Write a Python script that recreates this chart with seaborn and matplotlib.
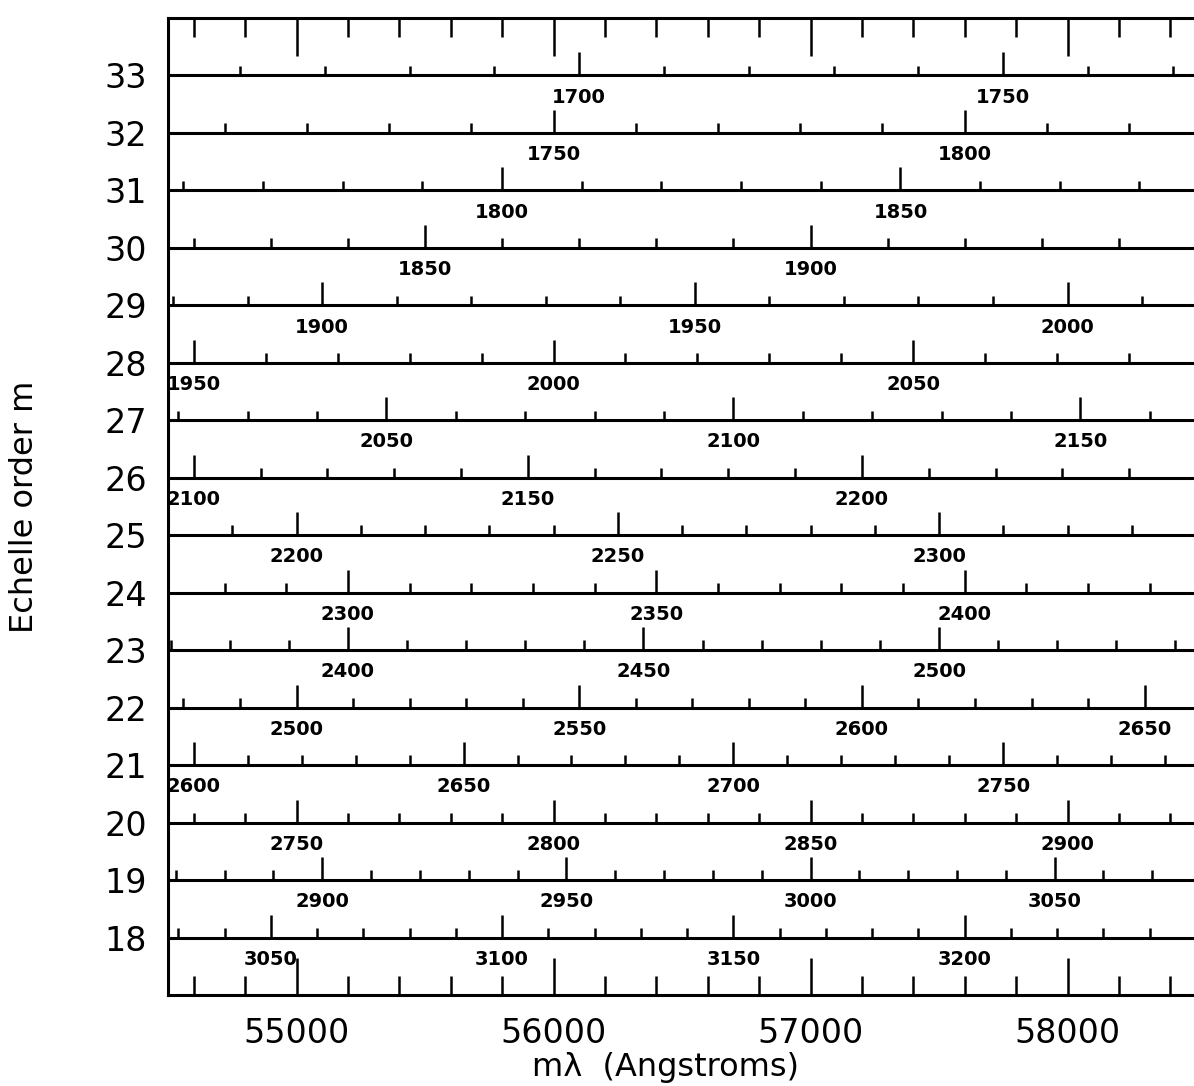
import numpy as np
import pandas as pd
import matplotlib
matplotlib.use("Agg")
import matplotlib.pyplot as plt
from matplotlib.ticker import MultipleLocator, FixedLocator
import seaborn as sns

# Echelle orders shown and the m*lambda window covered by the detector
orders = list(range(18, 34))
mlam_limits = [54500, 58500]
order_limits = [17, 34]

# Wavelength tick spacing along each order (Angstroms)
lam_minor_step = 10
lam_label_step = 50

# m*lambda axis ticks
x_major_ticks = [55000, 56000, 57000, 58000]
x_minor_step = 200

sns.set_theme(style="ticks")
plt.rcParams["font.family"] = ["DejaVu Sans"]
plt.rcParams["axes.facecolor"] = "white"
plt.rcParams["figure.facecolor"] = "white"
plt.rcParams["text.color"] = "black"
plt.rcParams["axes.labelcolor"] = "black"
plt.rcParams["xtick.color"] = "black"
plt.rcParams["ytick.color"] = "black"
plt.rcParams["xtick.labelcolor"] = "black"
plt.rcParams["ytick.labelcolor"] = "black"

# Build the order lines and the wavelength tick table
line_rows = []
tick_rows = []
for m in orders:
    for x in mlam_limits:
        line_rows.append({"mlam": x, "order": m})
    lam_lo = np.ceil(mlam_limits[0] / m / lam_minor_step) * lam_minor_step
    lam_hi = np.floor(mlam_limits[1] / m / lam_minor_step) * lam_minor_step
    for lam in np.arange(lam_lo, lam_hi + 1, lam_minor_step):
        lam = int(round(lam))
        tick_rows.append({"order": m, "lam": lam, "mlam": m * lam,
                          "major": lam % lam_label_step == 0})
lines = pd.DataFrame(line_rows)
ticks = pd.DataFrame(tick_rows)

fig = plt.figure(figsize=(11.94, 10.86), dpi=100)
ax = fig.add_axes([168 / 1194, 1 - 995 / 1086, (1196 - 168) / 1194, (995 - 18) / 1086])

# Horizontal line for each order
sns.lineplot(data=lines, x="mlam", y="order", units="order", estimator=None,
             color="black", linewidth=2.2, legend=False, ax=ax)

# Wavelength ticks standing on each order line
minor_h, major_h = 0.17, 0.40
small = ticks[~ticks["major"]]
big = ticks[ticks["major"]]
ax.vlines(small["mlam"], small["order"], small["order"] + minor_h,
          color="black", linewidth=1.8)
ax.vlines(big["mlam"], big["order"], big["order"] + major_h,
          color="black", linewidth=1.8)

# Wavelength labels below each order line
for _, r in big.iterrows():
    if mlam_limits[0] <= r["mlam"] <= mlam_limits[1] - 30:
        ax.text(r["mlam"], r["order"] - 0.377, f"{r['lam']}",
                ha="center", va="center", fontsize=14, fontweight="bold",
                color="black", clip_on=False)

ax.set_xlim(*mlam_limits)
ax.set_ylim(*order_limits)

ax.xaxis.set_major_locator(FixedLocator(x_major_ticks))
ax.xaxis.set_minor_locator(MultipleLocator(x_minor_step))
ax.set_xticklabels([str(v) for v in x_major_ticks])
ax.tick_params(axis="x", which="major", direction="in", length=27, width=1.8,
               top=True, bottom=True, labelsize=24, pad=16,
               color="black", labelcolor="black")
ax.tick_params(axis="x", which="minor", direction="in", length=14, width=1.8,
               top=True, bottom=True, color="black")

ax.set_yticks(orders)
ax.set_yticklabels([str(m) for m in orders])
ax.tick_params(axis="y", which="both", length=0, labelsize=24, pad=15,
               labelcolor="black")

for side in ["left", "right", "top", "bottom"]:
    ax.spines[side].set_linewidth(2.2)
    ax.spines[side].set_color("black")

ax.set_xlabel("m\u03bb  (Angstroms)", fontsize=23, color="black")
ax.xaxis.set_label_coords((665 - 168) / 1028, (995 - 1052) / 977)
ax.xaxis.label.set_va("top")
ax.set_ylabel("Echelle order m", fontsize=23, color="black")
ax.yaxis.set_label_coords((40 - 168) / 1028, 0.5)

fig.savefig("out.png", dpi=100, facecolor="white")
